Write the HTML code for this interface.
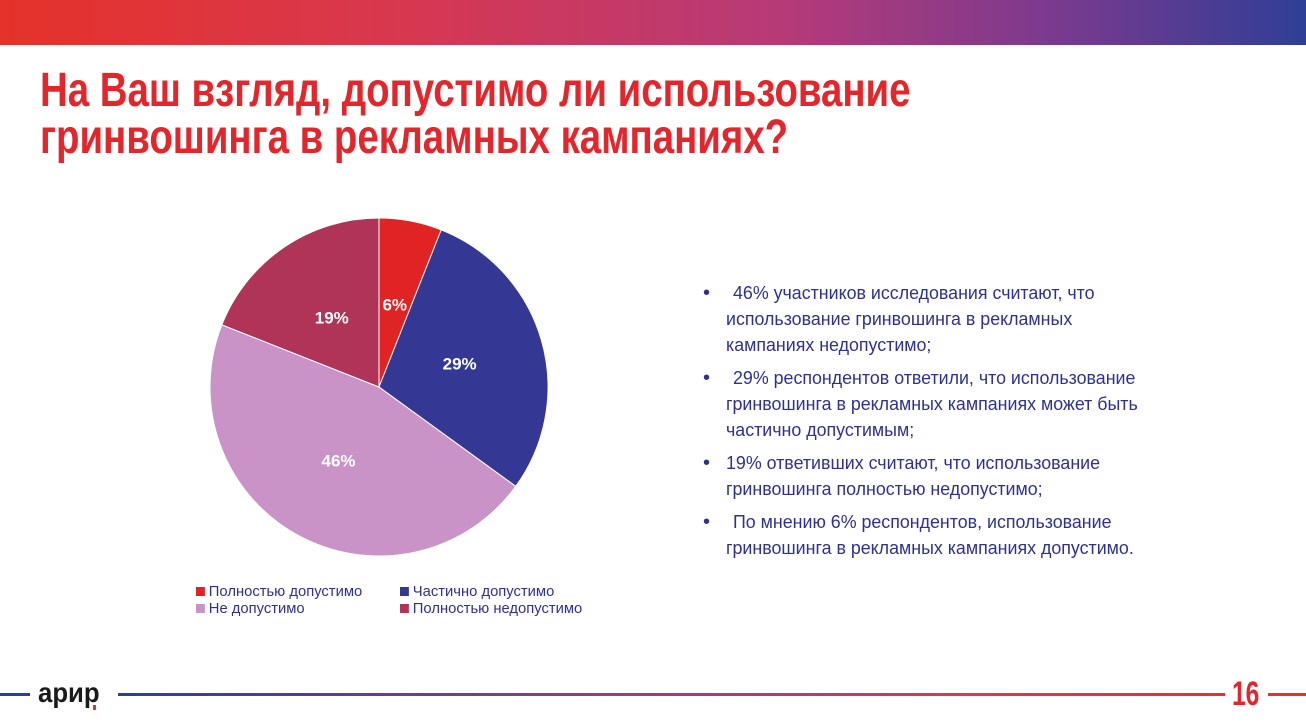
<!DOCTYPE html>
<html><head><meta charset="utf-8"><style>
body{margin:0;width:1306px;height:728px;position:relative;background:#fff;overflow:hidden;font-family:"Liberation Sans","DejaVu Sans",sans-serif}
.topbar{position:absolute;left:0;top:0;width:1306px;height:45px;background:linear-gradient(90deg,#e5322a 0%,#d8384f 30%,#b63a78 60%,#7d3a8e 80%,#2f3e96 100%)}
.title{position:absolute;left:40px;top:67px;color:#e3262b;font-weight:bold;font-size:48px;line-height:47px;white-space:nowrap;transform:scaleX(0.80);transform-origin:left top}
.ln{position:absolute;color:#2e3192;font-size:18px;white-space:nowrap;transform:scaleX(0.99);transform-origin:left top;line-height:20px}
.bul{position:absolute;color:#2e3192;font-size:20px;line-height:20px}
.leg{position:absolute;font-size:15px;color:#2e3192;white-space:nowrap;line-height:17px;transform:scaleX(0.985);transform-origin:left top}
.sw{display:inline-block;width:9px;height:9px;margin-right:4px}
</style></head><body>
<div class="topbar"></div>
<div class="title">На Ваш взгляд, допустимо ли использование<br>гринвошинга в рекламных кампаниях?</div>

<svg id="pie" width="1306" height="728" style="position:absolute;left:0;top:0"></svg>

<div class="leg" style="left:196px;top:583px"><span class="sw" style="background:#e02424"></span>Полностью допустимо</div>
<div class="leg" style="left:400px;top:583px"><span class="sw" style="background:#343894"></span>Частично допустимо</div>
<div class="leg" style="left:196px;top:600px"><span class="sw" style="background:#c993c8"></span>Не допустимо</div>
<div class="leg" style="left:400px;top:600px"><span class="sw" style="background:#b03358"></span>Полностью недопустимо</div>

<div>
<div class="bul" style="left:703px;top:283px">•</div>
<div class="ln" style="left:733px;top:283px"> 46% участников исследования считают, что</div>
<div class="ln" style="left:726px;top:309px">использование гринвошинга в рекламных</div>
<div class="ln" style="left:726px;top:335px">кампаниях недопустимо;</div>
<div class="bul" style="left:703px;top:368px">•</div>
<div class="ln" style="left:733px;top:368px"> 29% респондентов ответили, что использование</div>
<div class="ln" style="left:726px;top:394px">гринвошинга в рекламных кампаниях может быть</div>
<div class="ln" style="left:726px;top:420px">частично допустимым;</div>
<div class="bul" style="left:703px;top:453px">•</div>
<div class="ln" style="left:726px;top:453px">19% ответивших считают, что использование</div>
<div class="ln" style="left:726px;top:479px">гринвошинга полностью недопустимо;</div>
<div class="bul" style="left:703px;top:512px">•</div>
<div class="ln" style="left:733px;top:512px"> По мнению 6% респондентов, использование</div>
<div class="ln" style="left:726px;top:538px">гринвошинга в рекламных кампаниях допустимо.</div>
</div>

<div style="position:absolute;left:0;top:693px;width:30px;height:3px;background:#2f3e96"></div>
<div style="position:absolute;left:118px;top:693px;width:1107px;height:3px;background:linear-gradient(90deg,#2f3e96,#8a3e8c 40%,#d23a5a 75%,#e5322a)"></div>
<div style="position:absolute;left:1268px;top:693px;width:38px;height:3px;background:#e5322a"></div>
<div style="position:absolute;left:38px;top:678px;font-size:28px;font-weight:bold;color:#1a1a1a;transform:scaleX(0.92);transform-origin:left top;line-height:30px">арир</div>
<div style="position:absolute;left:93px;top:705px;width:3px;height:5px;background:#e5322a"></div>
<div style="position:absolute;left:1232px;top:676px;font-size:34px;font-weight:bold;color:#e3262b;transform:scaleX(0.72);transform-origin:left top;line-height:36px">16</div>

<script>
const categories=["Полностью допустимо","Частично допустимо","Не допустимо","Полностью недопустимо"];
const values=[6,29,46,19];
const labels=["6%","29%","46%","19%"];
const colors=["#e02424","#343894","#c993c8","#b03358"];
const svg=document.getElementById('pie');
const cx=379,cy=387,R=169,NS="http://www.w3.org/2000/svg";
const total=values.reduce((a,b)=>a+b,0);
let acc=0;
function pt(a,r){return [cx+r*Math.sin(a),cy-r*Math.cos(a)];}
values.forEach((v,i)=>{
  const a0=acc/total*2*Math.PI;acc+=v;const a1=acc/total*2*Math.PI;
  const p0=pt(a0,R),p1=pt(a1,R);
  const path=document.createElementNS(NS,'path');
  path.setAttribute('d',`M${cx},${cy}L${p0[0]},${p0[1]}A${R},${R} 0 ${a1-a0>Math.PI?1:0} 1 ${p1[0]},${p1[1]}Z`);
  path.setAttribute('fill',colors[i]);
  path.setAttribute('stroke','#fff');path.setAttribute('stroke-width','1');
  
  
  svg.appendChild(path);
  const m=(a0+a1)/2,lp=pt(m,84);
  const t=document.createElementNS(NS,'text');
  t.setAttribute('x',lp[0]);t.setAttribute('y',lp[1]+6);
  t.setAttribute('text-anchor','middle');t.setAttribute('fill','#fff');
  t.setAttribute('font-family','Liberation Sans, sans-serif');t.setAttribute('font-weight','bold');t.setAttribute('font-size','17');
  t.textContent=labels[i];
  
  
  svg.appendChild(t);
});
</script>
</body></html>
